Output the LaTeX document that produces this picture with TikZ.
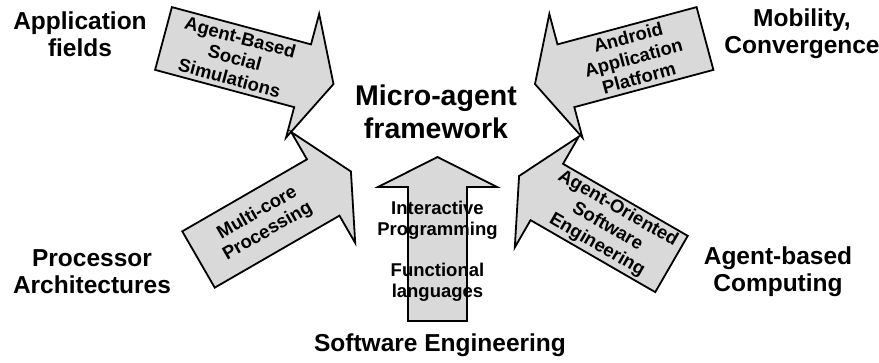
\documentclass[tikz,border=0pt]{standalone}
\usepackage{fontspec}
\setmainfont{Liberation Sans}
\definecolor{arrowgray}{RGB}{217,217,217}
\tikzset{
  arrowbody/.style={draw=black, line width=1.8pt, fill=arrowgray, line join=miter},
  arrowtext/.style={font=\fontsize{18.5}{21}\selectfont\bfseries, align=center, inner sep=0pt},
  fieldlabel/.style={font=\fontsize{24.5}{27}\selectfont\bfseries, align=center, inner sep=0pt},
  titlelabel/.style={font=\fontsize{28.5}{33}\selectfont\bfseries, align=center, inner sep=0pt},
}
% block arrow: tail centre x, y, direction, text angle, node name, text
\newcommand\blockarrow[6]{%
  \begin{scope}[shift={(#1,#2)}, rotate=#3]
    \draw[arrowbody] (0,32.5) -- (144,32.5) -- (144,64) -- (176,0)
      -- (144,-64) -- (144,-32.5) -- (0,-32.5) -- cycle;
    \node[arrowtext, rotate=#4] (#5) at (74,0) {#6};
  \end{scope}}
\begin{document}
\begin{tikzpicture}[x=1pt, y=1pt]
  \useasboundingbox (0,0) rectangle (879,362);

  % four slanted arrows around the centre
  \blockarrow{163.5}{323.5}{-15}{-15}{abss}{Agent-Based\\Social\\Simulations}
  \blockarrow{198.5}{102.5}{30}{30}{mcp}{Multi-core\\Processing}
  \blockarrow{705}{323.5}{195}{15}{aap}{Android\\Application\\Platform}
  \blockarrow{671.5}{98}{150}{-30}{aose}{Agent-Oriented\\Software\\Engineering}

  % upright arrow from below
  \draw[arrowbody] (408,41) -- (408,175) -- (378,175) -- (437.5,205)
    -- (497,175) -- (467,175) -- (467,41) -- cycle;
  \node[arrowtext] (ip) at (437.5,142) {Interactive\\Programming};
  \node[arrowtext] (fl) at (437.5,80) {Functional\\languages};

  % centre title
  \node[titlelabel] (title) at (436,250) {Micro-agent\\framework};

  % field labels
  \node[fieldlabel] (appf) at (80,328) {Application\\fields};
  \node[fieldlabel] (mob) at (802,328) {Mobility,\\Convergence};
  \node[fieldlabel] (proc) at (92,90) {Processor\\Architectures};
  \node[fieldlabel] (abc) at (778,90) {Agent-based\\Computing};
  \node[fieldlabel] (se) at (440,17) {Software Engineering};
\end{tikzpicture}
\end{document}
